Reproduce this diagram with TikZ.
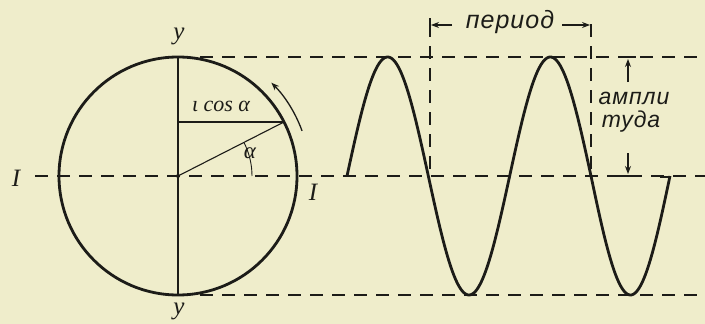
\documentclass[tikz,border=0pt]{standalone}
\usepackage{fontspec}
\setmainfont{Liberation Serif}
\newfontfamily\labfont[LetterSpace=4]{Liberation Sans}
\usetikzlibrary{arrows.meta,calc}
\definecolor{paper}{HTML}{EFEDCB}
\definecolor{ink}{HTML}{1C1C18}
\begin{document}
\begin{tikzpicture}[x=1pt,y=1pt,
  guide/.style={ink, line width=1.8pt, dash pattern=on 13pt off 9pt},
  heavy/.style={ink, line width=2.8pt},
  thinline/.style={ink, line width=1.1pt},
  lab/.style={text=ink, font=\itshape\fontsize{25}{25}\selectfont, inner sep=0pt},
  rus/.style={text=ink, font=\labfont\itshape\fontsize{23}{23}\selectfont, inner sep=0pt},
  tip/.style={-{Stealth[length=8pt,width=6pt]}}]
\fill[paper] (0,0) rectangle (705,-324);
\useasboundingbox (0,0) rectangle (705,-324);
% key points
\coordinate (C) at (178,-176);
\coordinate (P) at (284,-122);
\coordinate (Q) at (178,-122);
\coordinate (Ytop) at (178,-57);
\coordinate (Ybot) at (178,-295);
\coordinate (Mleft) at (35,-176);
\coordinate (Mright) at (705,-176);
\coordinate (Tleft) at (200,-57);
\coordinate (Tright) at (705,-57);
\coordinate (Bleft) at (200,-295);
\coordinate (Bright) at (705,-295);
\coordinate (PerA) at (430,-24);
\coordinate (PerAb) at (430,-176);
\coordinate (PerB) at (591,-24);
\coordinate (PerBb) at (591,-176);
% guide lines
\draw[guide] (Mleft) -- (Mright);
\draw[guide] (Tleft) -- (Tright);
\draw[guide] (Bleft) -- (Bright);
\draw[guide, line width=1.4pt] (PerA) -- (PerAb);
\draw[guide, line width=1.4pt] (PerB) -- (PerBb);
% circle and axes
\draw[heavy] (C) circle[radius=119];
\draw[ink, line width=1.4pt] (Ytop) -- (Ybot);
\draw[thinline] (C) -- (P);
\draw[thinline] (Q) -- (P);
\fill[ink] (C) circle[radius=2pt];
\draw[ink, line width=0.9pt] ($(C)+(0:74)$) arc[start angle=0, end angle=27, radius=74];
\draw[ink, line width=1.3pt, tip] ($(C)+(20:132)$) arc[start angle=20, end angle=45, radius=132];
% labels of circle
\node[lab] (ly1) at (179,-36) {y};
\node[lab] (ly2) at (179,-311) {y};
\node[lab] (lx1) at (16,-178) {I};
\node[lab] (lx2) at (313,-192) {I};
\node[lab, font=\itshape\fontsize{22}{22}\selectfont] (lcos) at (221,-106) {ι cos α};
\node[lab, font=\itshape\fontsize{23}{23}\selectfont] (lal) at (250,-153) {α};
% wave
\draw[heavy] plot[domain=347:670, samples=260]
  (\x, {-176+119*sin(\x<591 ? (\x-347)*2.2131 : 540+(\x-591)*2.2785)});
\draw[heavy] (660,-177) -- (671,-177);
% period
\node[rus, font=\labfont\itshape\fontsize{25}{25}\selectfont] (per) at (510,-22) {период};
\draw[thinline] (430,-18) -- (430,-31);
\draw[thinline, tip] (452,-25) -- (431,-25);
\draw[thinline, tip] (562,-25) -- (590,-25);
% amplitude
\node[rus] (amp1) at (634,-98) {ампли};
\node[rus] (amp2) at (631,-122) {туда};
\draw[thinline, tip] (628,-82) -- (628,-59);
\draw[thinline, tip] (628,-153) -- (628,-174);
\draw[ink, line width=1.6pt] (620,-176) -- (636,-176);
\draw[ink, line width=1.6pt] (620,-57) -- (636,-57);
\end{tikzpicture}
\end{document}
